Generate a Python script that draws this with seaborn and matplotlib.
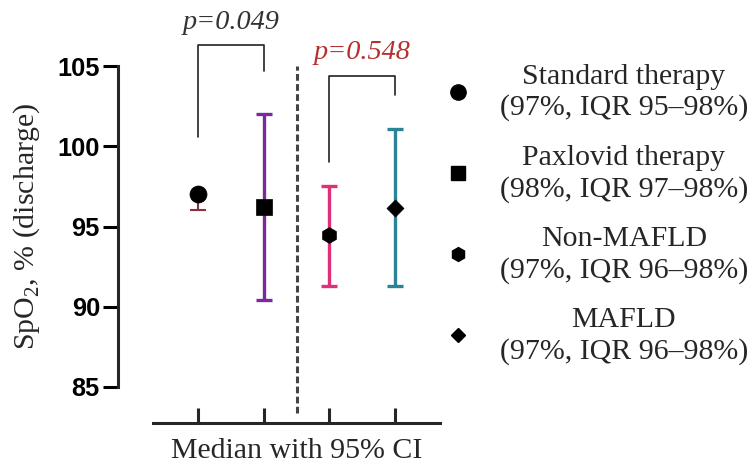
import numpy as np
import pandas as pd
import matplotlib
matplotlib.use("Agg")
import matplotlib.pyplot as plt
import seaborn as sns
from matplotlib.lines import Line2D

sns.set_theme(style="ticks")
plt.rcParams['font.family'] = ['Liberation Serif', 'DejaVu Serif']
plt.rcParams['mathtext.fontset'] = 'custom'
plt.rcParams['mathtext.rm'] = 'Liberation Serif'

# ---- data ----
groups = ["Standard therapy", "Paxlovid therapy", "Non-MAFLD", "MAFLD"]
summaries = ["(97%, IQR 95–98%)", "(98%, IQR 97–98%)", "(97%, IQR 96–98%)", "(97%, IQR 96–98%)"]
medians = [97.0, 96.2, 94.45, 96.15]
ci_low = [96.0, 90.4, 91.3, 91.3]
ci_high = [97.0, 102.0, 97.55, 101.1]
bar_colors = ["#8B2E3E", "#7B2A9B", "#E0307A", "#2A8396"]
markers = ["o", "s", "h", "D"]
marker_sizes = [150, 140, 130, 75]
p_values = ["p=0.049", "p=0.548"]
p_colors = ["#333333", "#B5312F"]
y_ticks = [85, 90, 95, 100, 105]

df = pd.DataFrame({"group": groups, "pos": np.arange(len(groups)),
                   "median": medians, "low": ci_low, "high": ci_high})

FS = 21.5

fig = plt.figure(figsize=(7.56, 4.66), dpi=100)
ax = fig.add_axes([118/756, 1-387/466, (440-118)/756, (387-66)/466])

# error bars
for i, row in df.iterrows():
    lw = 1.5 if i == 0 else 2.4
    ax.errorbar(row["pos"], row["median"],
                yerr=[[row["median"] - row["low"]], [row["high"] - row["median"]]],
                fmt="none", ecolor=bar_colors[i], elinewidth=lw, capsize=5.5,
                capthick=lw, zorder=2)

# markers via seaborn
for i, row in df.iterrows():
    sns.scatterplot(x=[row["pos"]], y=[row["median"]], marker=markers[i],
                    s=marker_sizes[i], color="black", edgecolor="black",
                    linewidth=0.5, ax=ax, zorder=3, legend=False)

ax.set_xlim(-1.218, 3.685)
ax.set_ylim(85, 105)
ax.set_yticks(y_ticks)
ax.set_yticklabels([str(t) for t in y_ticks], fontfamily="Liberation Sans",
                   fontweight="bold", fontsize=18.3)
ax.set_xticks(df["pos"])
ax.set_xticklabels([])

for s in ["top", "right"]:
    ax.spines[s].set_visible(False)
ax.spines["left"].set_linewidth(2.2)
ax.spines["bottom"].set_linewidth(2.2)
ax.spines["left"].set_bounds(85, 105)
ax.spines["bottom"].set_position(("outward", 26))
ax.spines["bottom"].set_bounds(-0.685, 3.685)
ax.tick_params(axis="y", direction="out", length=11, width=2.2, pad=2, colors="black")
ax.tick_params(axis="x", direction="in", length=11, width=2.2)

ax.set_ylabel("SpO$_2$, % (discharge)", fontsize=FS)
ax.yaxis.set_label_coords(-0.236, 0.5)
ax.set_xlabel("Median with 95% CI", fontsize=FS)
ax.xaxis.set_label_coords(0.554, -0.16)

# dashed divider
ax.plot([1.5, 1.5], [83.4, 105], ls=(0, (2.2, 1.1)), color="#444444", lw=2.2, clip_on=False)

# significance brackets
brackets = [(0, 1, 100.6, 104.7, 106.3), (2, 3, 99.0, 103.2, 104.4)]
for (a, b, ya, yb, top), ptxt, pc in zip(brackets, p_values, p_colors):
    ax.plot([a, a, b, b], [ya, top, top, yb], color="#222222", lw=1.2, clip_on=False)
    ax.text((a + b) / 2, top + 0.65, ptxt, ha="center", va="bottom", fontsize=20.3,
            style="italic", color=pc, clip_on=False)

# legend
handles = [Line2D([], [], ls="none", marker=m, color="black", markersize=ms)
           for m, ms in zip(markers, [11, 10, 10, 7.5])]
labels = [f"{g}\n{s}" for g, s in zip(groups, summaries)]
leg = fig.legend(handles, labels, loc="upper left", bbox_to_anchor=(446/756, 1-64/466),
                 frameon=False, fontsize=FS, handlelength=0.8, handletextpad=1.0,
                 labelspacing=0.79, borderaxespad=0, borderpad=0)
for t in leg.get_texts():
    t.set_multialignment("center")
    t.set_linespacing(1.22)

fig.savefig("out.png", dpi=100)
